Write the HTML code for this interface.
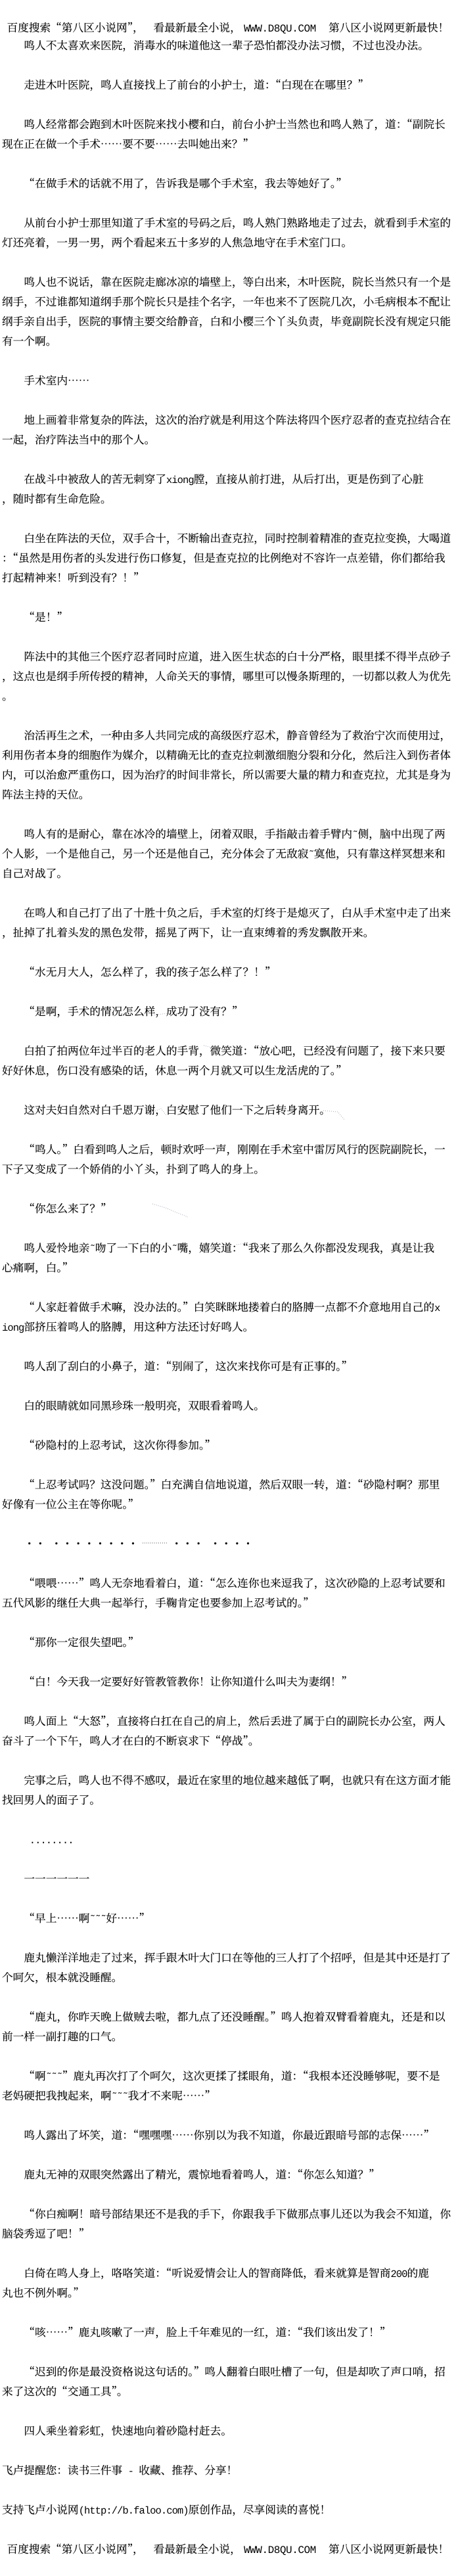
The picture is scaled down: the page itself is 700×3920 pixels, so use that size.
<!DOCTYPE html>
<html lang="zh-CN"><head><meta charset="utf-8"><title>第八区小说网</title>
<style>
html,body{margin:0;padding:0;background:#fff}
body{position:relative;width:700px;height:3920px;overflow:hidden;color:#000;font-family:"Noto Serif CJK SC","WenQuanYi Zen Hei",serif;font-size:16.67px;line-height:30px;text-rendering:geometricPrecision;font-kerning:none;-webkit-text-stroke:.15px #000}
p{position:absolute;margin:-1px 0 0;left:3px;white-space:pre;height:30px;font-feature-settings:"palt" 0}
p.n{left:36.4px}
i{font:normal 15.5px/30px "Liberation Mono",monospace;letter-spacing:-.95px;-webkit-text-stroke:0}
i.h{font-size:16px;letter-spacing:-.45px}
svg{position:absolute;left:0;top:0}
</style></head><body>
<p style="top:27px;left:10.5px">百度搜索“第八区小说网”，</p><p style="top:27px;left:233.5px">看最新最全小说，</p><p style="top:27px;left:371px"><i class="h">WWW.D8QU.COM</i></p><p style="top:27px;left:500px">第八区小说网更新最快！</p>
<p class="n" style="top:54px">鸣人不太喜欢来医院，消毒水的味道他这一辈子恐怕都没办法习惯，不过也没办法。</p>
<p class="n" style="top:114px">走进木叶医院，鸣人直接找上了前台的小护士，道：“白现在在哪里？”</p>
<p class="n" style="top:174px">鸣人经常都会跑到木叶医院来找小樱和白，前台小护士当然也和鸣人熟了，道：“副院长</p>
<p style="top:204px">现在正在做一个手术……要不要……去叫她出来？”</p>
<p class="n" style="top:264px">“在做手术的话就不用了，告诉我是哪个手术室，我去等她好了。”</p>
<p class="n" style="top:324px">从前台小护士那里知道了手术室的号码之后，鸣人熟门熟路地走了过去，就看到手术室的</p>
<p style="top:354px">灯还亮着，一男一男，两个看起来五十多岁的人焦急地守在手术室门口。</p>
<p class="n" style="top:414px">鸣人也不说话，靠在医院走廊冰凉的墙壁上，等白出来，木叶医院，院长当然只有一个是</p>
<p style="top:444px">纲手，不过谁都知道纲手那个院长只是挂个名字，一年也来不了医院几次，小毛病根本不配让</p>
<p style="top:474px">纲手亲自出手，医院的事情主要交给静音，白和小樱三个丫头负责，毕竟副院长没有规定只能</p>
<p style="top:504px">有一个啊。</p>
<p class="n" style="top:564px">手术室内……</p>
<p class="n" style="top:624px">地上画着非常复杂的阵法，这次的治疗就是利用这个阵法将四个医疗忍者的查克拉结合在</p>
<p style="top:654px">一起，治疗阵法当中的那个人。</p>
<p class="n" style="top:714px">在战斗中被敌人的苦无刺穿了<i>xiong</i>膛，直接从前打进，从后打出，更是伤到了心脏</p>
<p style="top:744px">，随时都有生命危险。</p>
<p class="n" style="top:804px">白坐在阵法的天位，双手合十，不断输出查克拉，同时控制着精准的查克拉变换，大喝道</p>
<p style="top:834px">：“虽然是用伤者的头发进行伤口修复，但是查克拉的比例绝对不容许一点差错，你们都给我</p>
<p style="top:864px">打起精神来！听到没有？！”</p>
<p class="n" style="top:924px">“是！”</p>
<p class="n" style="top:984px">阵法中的其他三个医疗忍者同时应道，进入医生状态的白十分严格，眼里揉不得半点砂子</p>
<p style="top:1014px">，这点也是纲手所传授的精神，人命关天的事情，哪里可以慢条斯理的，一切都以救人为优先</p>
<p style="top:1044px">。</p>
<p class="n" style="top:1104px">治活再生之术，一种由多人共同完成的高级医疗忍术，静音曾经为了救治宁次而使用过，</p>
<p style="top:1134px">利用伤者本身的细胞作为媒介，以精确无比的查克拉刺激细胞分裂和分化，然后注入到伤者体</p>
<p style="top:1164px">内，可以治愈严重伤口，因为治疗的时间非常长，所以需要大量的精力和查克拉，尤其是身为</p>
<p style="top:1194px">阵法主持的天位。</p>
<p class="n" style="top:1254px">鸣人有的是耐心，靠在冰冷的墙壁上，闭着双眼，手指敲击着手臂内<i>˜</i>侧，脑中出现了两</p>
<p style="top:1284px">个人影，一个是他自己，另一个还是他自己，充分体会了无敌寂<i>˜</i>寞他，只有靠这样冥想来和</p>
<p style="top:1314px">自己对战了。</p>
<p class="n" style="top:1374px">在鸣人和自己打了出了十胜十负之后，手术室的灯终于是熄灭了，白从手术室中走了出来</p>
<p style="top:1404px">，扯掉了扎着头发的黑色发带，摇晃了两下，让一直束缚着的秀发飘散开来。</p>
<p class="n" style="top:1464px">“水无月大人，怎么样了，我的孩子怎么样了？！”</p>
<p class="n" style="top:1524px">“是啊，手术的情况怎么样，成功了没有？”</p>
<p class="n" style="top:1584px">白拍了拍两位年过半百的老人的手背，微笑道：“放心吧，已经没有问题了，接下来只要</p>
<p style="top:1614px">好好休息，伤口没有感染的话，休息一两个月就又可以生龙活虎的了。”</p>
<p class="n" style="top:1674px">这对夫妇自然对白千恩万谢，白安慰了他们一下之后转身离开。</p>
<p class="n" style="top:1734px">“鸣人。”白看到鸣人之后，顿时欢呼一声，刚刚在手术室中雷厉风行的医院副院长，一</p>
<p style="top:1764px">下子又变成了一个娇俏的小丫头，扑到了鸣人的身上。</p>
<p class="n" style="top:1824px">“你怎么来了？”</p>
<p class="n" style="top:1884px">鸣人爱怜地亲<i>˜</i>吻了一下白的小<i>˜</i>嘴，嬉笑道：“我来了那么久你都没发现我，真是让我</p>
<p style="top:1914px">心痛啊，白。”</p>
<p class="n" style="top:1974px">“人家赶着做手术嘛，没办法的。”白笑眯眯地搂着白的胳膊一点都不介意地用自己的<i>x</i></p>
<p style="top:2004px"><i>iong</i>部挤压着鸣人的胳膊，用这种方法还讨好鸣人。</p>
<p class="n" style="top:2064px">鸣人刮了刮白的小鼻子，道：“别闹了，这次来找你可是有正事的。”</p>
<p class="n" style="top:2124px">白的眼睛就如同黑珍珠一般明亮，双眼看着鸣人。</p>
<p class="n" style="top:2184px">“砂隐村的上忍考试，这次你得参加。”</p>
<p class="n" style="top:2244px">“上忍考试吗？这没问题。”白充满自信地说道，然后双眼一转，道：“砂隐村啊？那里</p>
<p style="top:2274px">好像有一位公主在等你呢。”</p>
<p style="top:2334px;left:36.4px">・・</p><p style="top:2334px;left:77.5px">・・・・・・・・</p><p style="top:2334px;left:260.4px">・・・</p><p style="top:2334px;left:319.2px">・・・・</p>
<p class="n" style="top:2394px">“喂喂……”鸣人无奈地看着白，道：“怎么连你也来逗我了，这次砂隐的上忍考试要和</p>
<p style="top:2424px">五代风影的继任大典一起举行，手鞠肯定也要参加上忍考试的。”</p>
<p class="n" style="top:2484px">“那你一定很失望吧。”</p>
<p class="n" style="top:2544px">“白！今天我一定要好好管教管教你！让你知道什么叫夫为妻纲！”</p>
<p class="n" style="top:2604px">鸣人面上“大怒”，直接将白扛在自己的肩上，然后丢进了属于白的副院长办公室，两人</p>
<p style="top:2634px">奋斗了一个下午，鸣人才在白的不断哀求下“停战”。</p>
<p class="n" style="top:2694px">完事之后，鸣人也不得不感叹，最近在家里的地位越来越低了啊，也就只有在这方面才能</p>
<p style="top:2724px">找回男人的面子了。</p>
<p class="n" style="top:2784px"><i> ........</i></p>
<p class="n" style="top:2844px">一一一一一一</p>
<p class="n" style="top:2904px">“早上……啊<i>˜˜˜</i>好……”</p>
<p class="n" style="top:2964px">鹿丸懒洋洋地走了过来，挥手跟木叶大门口在等他的三人打了个招呼，但是其中还是打了</p>
<p style="top:2994px">个呵欠，根本就没睡醒。</p>
<p class="n" style="top:3054px">“鹿丸，你昨天晚上做贼去啦，都九点了还没睡醒。”鸣人抱着双臂看着鹿丸，还是和以</p>
<p style="top:3084px">前一样一副打趣的口气。</p>
<p class="n" style="top:3144px">“啊<i>˜˜˜</i>”鹿丸再次打了个呵欠，这次更揉了揉眼角，道：“我根本还没睡够呢，要不是</p>
<p style="top:3174px">老妈硬把我拽起来，啊<i>˜˜˜</i>我才不来呢……”</p>
<p class="n" style="top:3234px">鸣人露出了坏笑，道：“嘿嘿嘿……你别以为我不知道，你最近跟暗号部的志保……”</p>
<p class="n" style="top:3294px">鹿丸无神的双眼突然露出了精光，震惊地看着鸣人，道：“你怎么知道？”</p>
<p class="n" style="top:3354px">“你白痴啊！暗号部结果还不是我的手下，你跟我手下做那点事儿还以为我会不知道，你</p>
<p style="top:3384px">脑袋秀逗了吧！”</p>
<p class="n" style="top:3444px">白倚在鸣人身上，咯咯笑道：“听说爱情会让人的智商降低，看来就算是智商<i>200</i>的鹿</p>
<p style="top:3474px">丸也不例外啊。”</p>
<p class="n" style="top:3534px">“咳……”鹿丸咳嗽了一声，脸上千年难见的一红，道：“我们该出发了！”</p>
<p class="n" style="top:3594px">“迟到的你是最没资格说这句话的。”鸣人翻着白眼吐槽了一句，但是却吹了声口哨，招</p>
<p style="top:3624px">来了这次的“交通工具”。</p>
<p class="n" style="top:3684px">四人乘坐着彩虹，快速地向着砂隐村赶去。</p>
<p style="top:3744px">飞卢提醒您：读书三件事<i> - </i>收藏、推荐、分享！</p>
<p style="top:3804px">支持飞卢小说网<i>(http://b.faloo.com)</i>原创作品，尽享阅读的喜悦！</p>
<p style="top:3864px;left:10.5px">百度搜索“第八区小说网”，</p><p style="top:3864px;left:233.5px">看最新最全小说，</p><p style="top:3864px;left:371px"><i class="h">WWW.D8QU.COM</i></p><p style="top:3864px;left:500px">第八区小说网更新最快！</p>
<svg width="700" height="3920" fill="none" stroke="#aab" stroke-width="1" stroke-dasharray="1 2">
<path d="M232 1545l22-3M310 1591l12 3 8 12M392 1640l14-12 12 8M225 1695l20-8 8 10M492 1690l22 2 10 12M232 1832l20 6 14 6 20 8M360 1894l14-2 8 10"/>
<path stroke="#555" d="M217 2348h38"/>
</svg>
</body></html>
